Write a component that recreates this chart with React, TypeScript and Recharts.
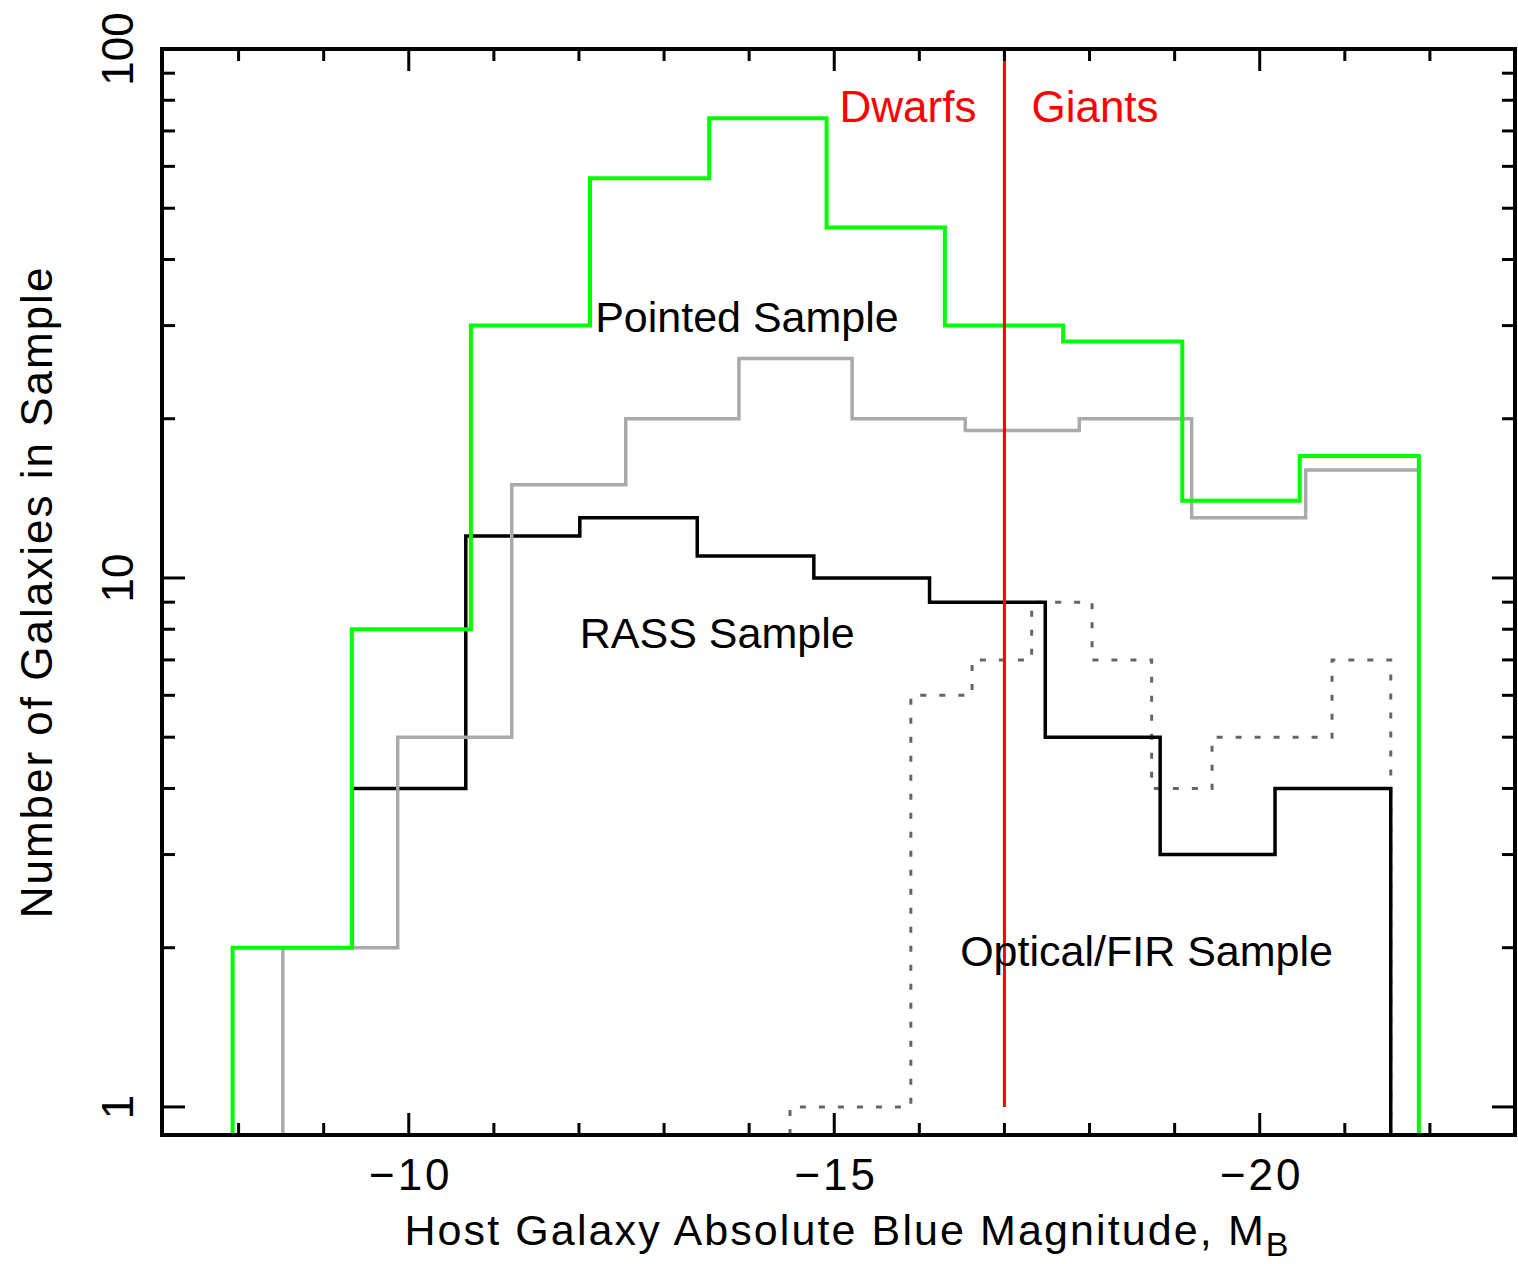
import React from 'react';
import { LineChart, Line, XAxis, YAxis, ReferenceLine, ReferenceDot, Label } from 'recharts';

// ---------- axis settings ----------
const Y_MIN = 0.885;
const Y_MAX = 100;
const X_MIN = -23;
const X_MAX = -7.1;

const X_TICKS = [-8, -9, -10, -11, -12, -13, -14, -15, -16, -17, -18, -19, -20, -21, -22, -23];
const X_LABELED = [-10, -15, -20];
const Y_TICKS = [1, 2, 3, 4, 5, 6, 7, 8, 9, 10, 20, 30, 40, 50, 60, 70, 80, 90, 100];
const Y_LABELED = [1, 10, 100];

// ---------- histogram data (bin edges in M_B, counts per bin) ----------
const pointedEdges = [-7.93, -9.33, -10.73, -12.13, -13.53, -14.91, -16.3, -17.69, -19.09, -20.47, -21.87];
const pointedCounts = [2, 8, 30, 57, 74, 46, 30, 28, 14, 17];

const rassEdges = [-9.33, -10.67, -12.01, -13.39, -14.76, -16.12, -17.48, -18.83, -20.18, -21.54];
const rassCounts = [4, 12, 13, 11, 10, 9, 5, 3, 4];
const rassStart = 2;

const allEdges = [-8.52, -9.87, -11.21, -12.55, -13.88, -15.21, -16.54, -17.88, -19.2, -20.54, -21.87];
const allCounts = [2, 5, 15, 20, 26, 20, 19, 20, 13, 16];

const firEdges = [-14.48, -15.9, -16.62, -17.32, -18.03, -18.73, -19.44, -20.14, -20.85, -21.54];
const firCounts = [1, 6, 7, 9, 7, 4, 5, 5, 7];

const DIVIDE_MAG = -17;

const FONT = '"Liberation Sans", Arial, sans-serif';

type Pt = { x: number; y: number };
function toSteps(edges: number[], counts: number[], start: number): Pt[] {
  const pts: Pt[] = [{ x: edges[0], y: start }];
  counts.forEach((c, i) => pts.push({ x: edges[i], y: c }));
  pts.push({ x: edges[edges.length - 1], y: Y_MIN });
  return pts;
}

const pointedData = toSteps(pointedEdges, pointedCounts, Y_MIN);
const rassData = toSteps(rassEdges, rassCounts, rassStart);
const allData = toSteps(allEdges, allCounts, Y_MIN);
const firData = toSteps(firEdges, firCounts, Y_MIN);

// ---------- custom ticks (inward) ----------
const XTickBottom = (props: any) => {
  const { x, y, payload } = props;
  const v = payload.value;
  const major = X_LABELED.includes(v);
  return (
    <g>
      <line x1={x} x2={x} y1={y} y2={y - (major ? 22 : 12)} stroke="#000" strokeWidth={3} />
      {major && (
        <text x={x + 2} y={y + 55} textAnchor="middle" fontSize={44} fontFamily={FONT} letterSpacing={3} fill="#000">
          {'\u2212' + Math.abs(v)}
        </text>
      )}
    </g>
  );
};

const XTickTop = (props: any) => {
  const { x, y, payload } = props;
  const major = X_LABELED.includes(payload.value);
  return <line x1={x} x2={x} y1={y} y2={y + (major ? 22 : 12)} stroke="#000" strokeWidth={3} />;
};

const YTickLeft = (props: any) => {
  const { x, y, payload } = props;
  const v = payload.value;
  const major = Y_LABELED.includes(v);
  const tx = x - 29;
  return (
    <g>
      <line x1={x} x2={x + (major ? 23 : 13)} y1={y} y2={y} stroke="#000" strokeWidth={3} />
      {major && (
        <text x={tx} y={y} transform={`rotate(-90, ${tx}, ${y})`} textAnchor="middle" fontSize={44} fontFamily={FONT} fill="#000">
          {String(v)}
        </text>
      )}
    </g>
  );
};

const YTickRight = (props: any) => {
  const { x, y, payload } = props;
  const major = Y_LABELED.includes(payload.value);
  return <line x1={x} x2={x - (major ? 23 : 13)} y1={y} y2={y} stroke="#000" strokeWidth={3} />;
};

// ---------- labels ----------
const XTitle = (props: any) => {
  const vb = props.viewBox || {};
  const cx = vb.x + vb.width / 2 + 8;
  const by = vb.y + 110;
  return (
    <text x={cx} y={by} textAnchor="middle" fontSize={43} fontFamily={FONT} letterSpacing={2.1} fill="#000">
      Host Galaxy Absolute Blue Magnitude, M
      <tspan fontSize={34} dy={11} letterSpacing={0}>B</tspan>
    </text>
  );
};

const YTitle = (props: any) => {
  const vb = props.viewBox || {};
  const tx = vb.x + 52;
  const ty = vb.y + vb.height / 2;
  return (
    <text x={tx} y={ty} transform={`rotate(-90, ${tx}, ${ty})`} textAnchor="middle" fontSize={44} fontFamily={FONT} letterSpacing={2} fill="#000">
      Number of Galaxies in Sample
    </text>
  );
};

const DivideLabel = (props: any) => {
  const vb = props.viewBox || {};
  const x = vb.x;
  const y = vb.y + 73;
  return (
    <g>
      <text x={x - 28} y={y} textAnchor="end" fontSize={44} fontFamily={FONT} fill="#ff0000">Dwarfs</text>
      <text x={x + 27} y={y} textAnchor="start" fontSize={44} fontFamily={FONT} fill="#ff0000">Giants</text>
    </g>
  );
};

const annotations = [
  { text: 'Pointed Sample', x: -12.19, y: 29.2 },
  { text: 'RASS Sample', x: -12.01, y: 7.37 },
  { text: 'Optical/FIR Sample', x: -16.48, y: 1.847 },
];

const textShape = (text: string) => (p: any) => (
  <text x={p.cx} y={p.cy} textAnchor="start" fontSize={43} fontFamily={FONT} fill="#000">
    {text}
  </text>
);

const axisLine = { stroke: '#000', strokeWidth: 4, strokeLinecap: 'square' as const };

export default function App() {
  return (
    <div style={{ position: 'absolute', left: 0, top: 0, background: '#fff' }}>
      <LineChart width={1518} height={1264} margin={{ top: 48, right: 2, bottom: 0, left: 0 }}>
        <XAxis
          xAxisId="b"
          dataKey="x"
          type="number"
          domain={[X_MIN, X_MAX]}
          reversed
          allowDataOverflow
          ticks={X_TICKS}
          interval={0}
          tickSize={0}
          tickMargin={0}
          height={129}
          axisLine={axisLine}
          tickLine={false}
          tick={<XTickBottom />}
        >
          <Label content={<XTitle />} />
        </XAxis>
        <XAxis
          xAxisId="t"
          orientation="top"
          dataKey="x"
          type="number"
          domain={[X_MIN, X_MAX]}
          reversed
          allowDataOverflow
          ticks={X_TICKS}
          interval={0}
          tickSize={0}
          tickMargin={0}
          height={1}
          axisLine={axisLine}
          tickLine={false}
          tick={<XTickTop />}
        />
        <YAxis
          yAxisId="l"
          type="number"
          scale="log"
          domain={[Y_MIN, Y_MAX]}
          allowDataOverflow
          ticks={Y_TICKS}
          interval={0}
          tickSize={0}
          tickMargin={0}
          width={162}
          axisLine={axisLine}
          tickLine={false}
          tick={<YTickLeft />}
        >
          <Label content={<YTitle />} />
        </YAxis>
        <YAxis
          yAxisId="r"
          orientation="right"
          type="number"
          scale="log"
          domain={[Y_MIN, Y_MAX]}
          allowDataOverflow
          ticks={Y_TICKS}
          interval={0}
          tickSize={0}
          tickMargin={0}
          width={1}
          axisLine={axisLine}
          tickLine={false}
          tick={<YTickRight />}
        />

        <Line xAxisId="b" yAxisId="l" data={firData} dataKey="y" type="stepAfter" stroke="#666666" strokeWidth={3} strokeDasharray="6 13" dot={false} activeDot={false} isAnimationActive={false} />
        <Line xAxisId="b" yAxisId="l" data={rassData} dataKey="y" type="stepAfter" stroke="#000000" strokeWidth={3.5} dot={false} activeDot={false} isAnimationActive={false} />
        <Line xAxisId="b" yAxisId="l" data={allData} dataKey="y" type="stepAfter" stroke="#aaaaaa" strokeWidth={3.5} dot={false} activeDot={false} isAnimationActive={false} />
        <Line xAxisId="b" yAxisId="l" data={pointedData} dataKey="y" type="stepAfter" stroke="#00ff00" strokeWidth={4} dot={false} activeDot={false} isAnimationActive={false} />

        <ReferenceLine
          xAxisId="b"
          yAxisId="l"
          segment={[{ x: DIVIDE_MAG, y: 1 }, { x: DIVIDE_MAG, y: 100 }]}
          stroke="#ff0000"
          strokeWidth={3}
          label={<DivideLabel />}
        />
        {annotations.map((a) => (
          <ReferenceDot key={a.text} xAxisId="b" yAxisId="l" x={a.x} y={a.y} r={0} shape={textShape(a.text)} />
        ))}
      </LineChart>
    </div>
  );
}
